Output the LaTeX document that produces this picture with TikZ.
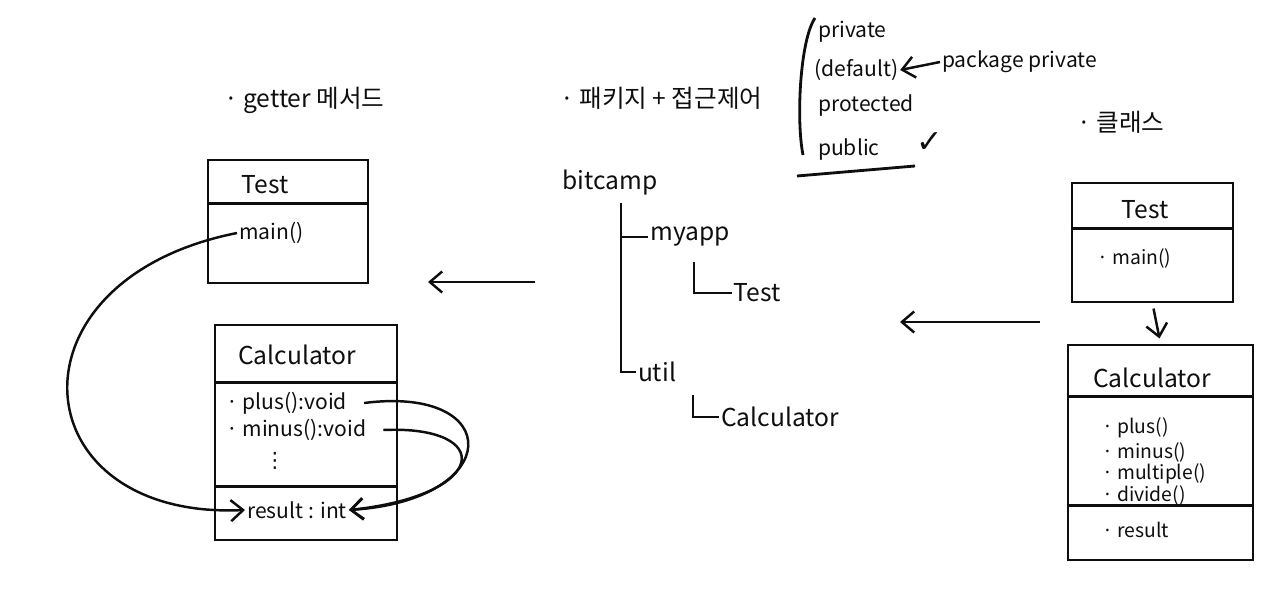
\documentclass[tikz,border=0pt]{standalone}
\usepackage{fontspec}
\setmainfont{Noto Sans CJK KR}
\newfontfamily\symfont{DejaVu Sans}
\usetikzlibrary{positioning,arrows.meta}
\definecolor{ink}{RGB}{14,14,14}
\tikzset{
  txt/.style    = {text=ink, font=\fontsize{14}{16}\selectfont, inner sep=1pt},
  item/.style   = {txt, font=\fontsize{12}{14}\selectfont, anchor=west},
  sitem/.style  = {item, font=\fontsize{11}{13}\selectfont},
  umlbox/.style = {draw=ink, line width=1.6pt, inner sep=0pt},
  sep/.style    = {draw=ink, line width=1.5pt},
  tree/.style   = {draw=ink, line width=1.6pt},
  link/.style   = {draw=ink, line width=1.4pt,
                   -{Straight Barb[length=7pt,width=12pt,line width=1.4pt]}},
}

\begin{document}
\begin{tikzpicture}[x=0.02cm, y=-0.02cm]
  \useasboundingbox (0,0) rectangle (1273,594);

    % headings
    \node[txt, anchor=west] (hgetter) at (222,100)  {· getter 메서드};
    \node[txt, anchor=west] (hpkg)    at (558,98)   {· 패키지 + 접근제어};
    \node[txt, anchor=west] (hclass)  at (1075,122) {· 클래스};

    % access modifiers
    \node[item] (mpriv)  at (816,32)  {private};
    \node[item] (mdef)   at (812,70)  {(default)};
    \node[item] (mpkg)   at (940,62)  {package private};
    \node[item] (mprot)  at (816,106) {protected};
    \node[item] (mpub)   at (816,150) {public};
    \node[txt, font=\symfont\fontsize{18}{20}\selectfont] (mchk) at (930,143) {✓};
    \draw[tree] (815,18) .. controls (800,40) and (796,120) .. (803,155);
    \draw[tree] (797,176) -- (915,166);
    \draw[link] (mpkg.west) -- (mdef.east);

    % getter: left boxes
    \node[umlbox, minimum width=3.2cm, minimum height=2.46cm] (ltest) at (288,221.5) {};
    \draw[sep] ([yshift=-0.9cm]ltest.north west) -- ([yshift=-0.9cm]ltest.north east);
    \node[txt] (ltestt) at (265,185) {Test};
    \node[item] (lmain) at (237,233) {main()};

    \node[umlbox, minimum width=3.64cm, minimum height=4.3cm] (lcalc) at (306,432.5) {};
    \draw[sep] ([yshift=-1.18cm]lcalc.north west) -- ([yshift=-1.18cm]lcalc.north east);
    \draw[sep] ([yshift=-3.26cm]lcalc.north west) -- ([yshift=-3.26cm]lcalc.north east);
    \node[txt] (lcalct) at (297,355) {Calculator};
    \node[item] (lplus)   at (224,403) {· plus():void};
    \node[item] (lminus)  at (224,430) {· minus():void};
    \node[txt, font=\symfont\fontsize{12}{14}\selectfont] (ldots) at (275,461) {⋮};
    \node[item] (lresult) at (245,510) {result : int};

    \draw[link] (lmain.west) .. controls (0,280) and (20,520) .. (lresult.west);
    \draw[link] ([xshift=0.3cm]lplus.east) .. controls (505,385) and (505,500) .. (lresult.east);
    \draw[link] ([xshift=0.3cm]lminus.east) .. controls (495,425) and (490,495) .. (lresult.east);

    % package tree
    \node[txt] (bitcamp) at (610,183) {bitcamp};
    \node[txt] (myapp)   at (690,237) {myapp};
    \node[txt] (ttest)   at (757,293) {Test};
    \node[txt] (util)    at (657,372) {util};
    \node[txt] (tcalc)   at (780,417) {Calculator};
    \coordinate (trunk)  at (621,203);
    \coordinate (mybr)   at (694,262);
    \coordinate (utilbr) at (693,395);
    \draw[tree] (trunk) |- (util.west);
    \draw[tree] (trunk |- myapp.west) -- (myapp.west);
    \draw[tree] (mybr) |- (ttest.west);
    \draw[tree] (utilbr) |- (tcalc.west);

    % class: right boxes
    \node[umlbox, minimum width=3.22cm, minimum height=2.38cm] (rtest) at (1152.5,242.5) {};
    \draw[sep] ([yshift=-0.94cm]rtest.north west) -- ([yshift=-0.94cm]rtest.north east);
    \node[txt] (rtestt) at (1145,210) {Test};
    \node[sitem] (rmain) at (1095,258) {· main()};

    \node[umlbox, minimum width=3.7cm, minimum height=4.3cm] (rcalc) at (1160.5,452.5) {};
    \draw[sep] ([yshift=-1.06cm]rcalc.north west) -- ([yshift=-1.06cm]rcalc.north east);
    \draw[sep] ([yshift=-3.24cm]rcalc.north west) -- ([yshift=-3.24cm]rcalc.north east);
    \node[txt] (rcalct) at (1152,378) {Calculator};
    \node[sitem] (rplus)   at (1100,428) {· plus()};
    \node[sitem] (rminus)  at (1100,452) {· minus()};
    \node[sitem] (rmult)   at (1100,474) {· multiple()};
    \node[sitem] (rdiv)    at (1100,495) {· divide()};
    \node[sitem] (rresult) at (1100,530) {· result};
    \draw[link, shorten <=3pt, shorten >=3pt] (rtest.south) -- (rcalc.north);

    % flow arrows
    \coordinate (treeout) at (535,282);
    \coordinate (getin)   at (428,282);
    \coordinate (classout) at (1040,322);
    \coordinate (treein)  at (900,322);
    \draw[link] (treeout) -- (getin);
    \draw[link] (classout) -- (treein);
  \end{tikzpicture}
\end{document}
